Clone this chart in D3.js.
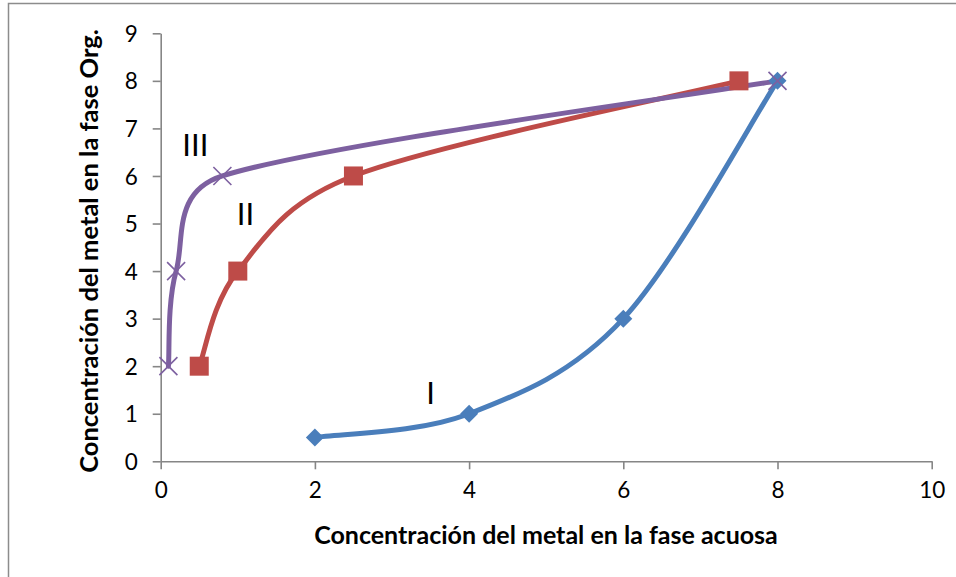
<!DOCTYPE html>
<html>
<head>
<meta charset="utf-8">
<script src="https://cdn.jsdelivr.net/npm/d3@7"></script>
<style>
  html, body { margin: 0; padding: 0; background: #fff; }
  svg { display: block; font-family: Lato, "Open Sans", sans-serif; }
</style>
</head>
<body>
<svg id="chart" width="956" height="577"></svg>
<script>
// Extraction curves: metal concentration, aqueous phase (x) vs organic phase (y)
const seriesNames = ["I", "II", "III"];
const seriesX = [
  [2, 4, 6, 8],
  [0.5, 1, 2.5, 7.5],
  [0.1, 0.2, 0.8, 8]
];
const seriesY = [
  [0.5, 1, 3, 8],
  [2, 4, 6, 8],
  [2, 4, 6, 8]
];
const seriesColors = ["#4A7EBB", "#BE4B48", "#7D60A0"];
const seriesMarkers = ["diamond", "square", "cross"];
// Where each curve's roman-numeral tag sits (data units)
const tagX = [3.5, 1.1, 0.45];
const tagY = [1.45, 5.2, 6.65];

const xTicks = [0, 2, 4, 6, 8, 10];
const yTicks = [0, 1, 2, 3, 4, 5, 6, 7, 8, 9];
const xTitle = "Concentración del metal en la fase acuosa";
const yTitle = "Concentración del metal en la fase Org.";

const svg = d3.select("#chart");
const W = 956, H = 577;
const plotLeft = 160.7, plotRight = 931.7, plotTop = 33.3, plotBottom = 461.3;

// outer chart frame
svg.append("rect")
  .attr("x", 8.5).attr("y", 3.5)
  .attr("width", W + 20).attr("height", H + 20)
  .attr("fill", "none").attr("stroke", "#8c8c8c").attr("stroke-width", 1.5);

const x = d3.scaleLinear().domain([0, 10]).range([plotLeft, plotRight]);
const y = d3.scaleLinear().domain([0, 9]).range([plotBottom, plotTop]);

const axisColor = "#868686";

const xAxis = svg.append("g")
  .attr("transform", `translate(0,${plotBottom})`)
  .call(d3.axisBottom(x).tickValues(xTicks).tickSize(8).tickPadding(13).tickSizeOuter(0));
const yAxis = svg.append("g")
  .attr("transform", `translate(${plotLeft},0)`)
  .call(d3.axisLeft(y).tickValues(yTicks).tickSize(8).tickPadding(15).tickSizeOuter(0));

[xAxis, yAxis].forEach(g => {
  g.select(".domain").attr("stroke", axisColor).attr("stroke-width", 1.6);
  g.selectAll(".tick line").attr("stroke", axisColor).attr("stroke-width", 1.6);
  g.selectAll(".tick text")
    .attr("fill", "#000")
    .style("font-family", "Lato, sans-serif")
    .style("font-size", "22.5px");
});
yAxis.selectAll(".tick text").attr("dy", "0.36em");

// Smoothed-line curve: Bezier segments whose tangents follow the neighbouring
// points (1/6 of the chord), with each handle limited to half its segment so
// short segments next to long ones do not overshoot.
function SmoothCurve(context) { this._context = context; }
SmoothCurve.prototype = {
  areaStart() {}, areaEnd() {},
  lineStart() { this._pts = []; },
  point(px, py) { this._pts.push([+px, +py]); },
  lineEnd() {
    const p = this._pts, n = p.length, ctx = this._context;
    if (!n) return;
    ctx.moveTo(p[0][0], p[0][1]);
    if (n === 1) return;
    const k = 0.5;
    const tangent = i => {
      const a = p[Math.max(0, i - 1)], b = p[Math.min(n - 1, i + 1)];
      return [(b[0] - a[0]) / 6, (b[1] - a[1]) / 6];
    };
    const clamp = (v, len) => {
      const L = Math.hypot(v[0], v[1]);
      if (L > k * len && L > 0) { const s = k * len / L; return [v[0] * s, v[1] * s]; }
      return v;
    };
    for (let i = 0; i < n - 1; i++) {
      const a = p[i], b = p[i + 1];
      const len = Math.hypot(b[0] - a[0], b[1] - a[1]);
      const t0 = clamp(tangent(i), len), t1 = clamp(tangent(i + 1), len);
      ctx.bezierCurveTo(a[0] + t0[0], a[1] + t0[1], b[0] - t1[0], b[1] - t1[1], b[0], b[1]);
    }
  }
};
const smoothCurve = context => new SmoothCurve(context);

const line = d3.line()
  .x(d => x(d[0]))
  .y(d => y(d[1]))
  .curve(smoothCurve);

seriesNames.forEach((name, i) => {
  const pts = seriesX[i].map((v, k) => [v, seriesY[i][k]]);
  svg.append("path")
    .datum(pts)
    .attr("d", line)
    .attr("fill", "none")
    .attr("stroke", seriesColors[i])
    .attr("stroke-width", 5)
    .attr("stroke-linejoin", "round")
    .attr("stroke-linecap", "round");
});

// markers
seriesNames.forEach((name, i) => {
  const pts = seriesX[i].map((v, k) => [v, seriesY[i][k]]);
  const g = svg.append("g");
  pts.forEach(p => {
    const cx = x(p[0]), cy = y(p[1]);
    if (seriesMarkers[i] === "diamond") {
      const r = 9;
      g.append("path")
        .attr("d", `M${cx},${cy - r}L${cx + r},${cy}L${cx},${cy + r}L${cx - r},${cy}Z`)
        .attr("fill", seriesColors[i]);
    } else if (seriesMarkers[i] === "square") {
      const s = 19;
      g.append("rect")
        .attr("x", cx - s / 2).attr("y", cy - s / 2)
        .attr("width", s).attr("height", s)
        .attr("fill", seriesColors[i]);
    } else {
      const r = 9;
      g.append("path")
        .attr("d", `M${cx - r},${cy - r}L${cx + r},${cy + r}M${cx - r},${cy + r}L${cx + r},${cy - r}`)
        .attr("stroke", seriesColors[i])
        .attr("stroke-width", 1.6)
        .attr("fill", "none");
    }
  });
});

// curve tags
seriesNames.forEach((name, i) => {
  svg.append("text")
    .attr("x", x(tagX[i]))
    .attr("y", y(tagY[i]))
    .attr("text-anchor", "middle")
    .attr("dy", "0.36em")
    .style("font-size", "31px")
    .attr("fill", "#000")
    .text(name);
});

// axis titles
svg.append("text")
  .attr("x", 546).attr("y", 544)
  .attr("text-anchor", "middle")
  .style("font-size", "25px").style("font-weight", "bold")
  .text(xTitle);

svg.append("text")
  .attr("transform", `translate(98,251) rotate(-90)`)
  .attr("text-anchor", "middle")
  .style("font-size", "25.5px").style("font-weight", "bold")
  .text(yTitle);
</script>
</body>
</html>
